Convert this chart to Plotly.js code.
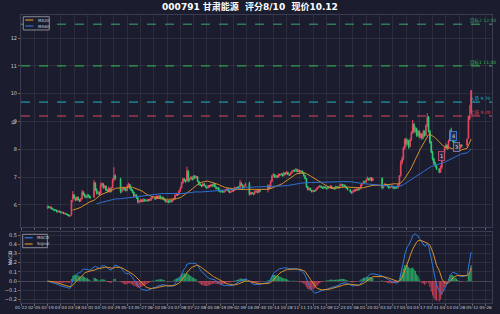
<!DOCTYPE html>
<html><head><meta charset="utf-8">
<script src="https://cdn.plot.ly/plotly-3.0.1.min.js"></script>
<style>html,body{margin:0;padding:0;background:#1b1d2e;}#chart{width:500px;height:314px;}</style>
</head><body><div id="chart"></div>
<script>
const dates = [
'2024-02-19','2024-02-20','2024-02-21','2024-02-22','2024-02-23','2024-02-26','2024-02-27','2024-02-28','2024-02-29',
'2024-03-01','2024-03-04','2024-03-05','2024-03-06','2024-03-07','2024-03-08','2024-03-11','2024-03-12','2024-03-13','2024-03-14','2024-03-15','2024-03-18','2024-03-19','2024-03-20','2024-03-21','2024-03-22','2024-03-25','2024-03-26','2024-03-27','2024-03-28','2024-03-29',
'2024-04-01','2024-04-02','2024-04-03','2024-04-08','2024-04-09','2024-04-10','2024-04-11','2024-04-12','2024-04-15','2024-04-16','2024-04-17','2024-04-18','2024-04-19','2024-04-22','2024-04-23','2024-04-24','2024-04-25','2024-04-26','2024-04-29','2024-04-30',
'2024-05-06','2024-05-07','2024-05-08','2024-05-09','2024-05-10','2024-05-13','2024-05-14','2024-05-15','2024-05-16','2024-05-17','2024-05-20','2024-05-21','2024-05-22','2024-05-23','2024-05-24','2024-05-27','2024-05-28','2024-05-29','2024-05-30','2024-05-31',
'2024-06-03','2024-06-04','2024-06-05','2024-06-06','2024-06-07','2024-06-11','2024-06-12','2024-06-13','2024-06-14','2024-06-17','2024-06-18','2024-06-19','2024-06-20','2024-06-21','2024-06-24','2024-06-25','2024-06-26','2024-06-27','2024-06-28',
'2024-07-01','2024-07-02','2024-07-03','2024-07-04','2024-07-05','2024-07-08','2024-07-09','2024-07-10','2024-07-11','2024-07-12','2024-07-15','2024-07-16','2024-07-17','2024-07-18','2024-07-19','2024-07-22','2024-07-23','2024-07-24','2024-07-25','2024-07-26','2024-07-29','2024-07-30','2024-07-31',
'2024-08-01','2024-08-02','2024-08-05','2024-08-06','2024-08-07','2024-08-08','2024-08-09','2024-08-12','2024-08-13','2024-08-14','2024-08-15','2024-08-16','2024-08-19','2024-08-20','2024-08-21','2024-08-22','2024-08-23','2024-08-26','2024-08-27','2024-08-28','2024-08-29','2024-08-30',
'2024-09-02','2024-09-03','2024-09-04','2024-09-05','2024-09-06','2024-09-09','2024-09-10','2024-09-11','2024-09-12','2024-09-13','2024-09-18','2024-09-19','2024-09-20','2024-09-23','2024-09-24','2024-09-25','2024-09-26','2024-09-27','2024-09-30',
'2024-10-08','2024-10-09','2024-10-10','2024-10-11','2024-10-14','2024-10-15','2024-10-16','2024-10-17','2024-10-18','2024-10-21','2024-10-22','2024-10-23','2024-10-24','2024-10-25','2024-10-28','2024-10-29','2024-10-30','2024-10-31',
'2024-11-01','2024-11-04','2024-11-05','2024-11-06','2024-11-07','2024-11-08','2024-11-11','2024-11-12','2024-11-13','2024-11-14','2024-11-15','2024-11-18','2024-11-19','2024-11-20','2024-11-21','2024-11-22','2024-11-25','2024-11-26','2024-11-27','2024-11-28','2024-11-29',
'2024-12-02','2024-12-03','2024-12-04','2024-12-05','2024-12-06','2024-12-09','2024-12-10','2024-12-11','2024-12-12','2024-12-13','2024-12-16','2024-12-17','2024-12-18','2024-12-19','2024-12-20','2024-12-23','2024-12-24','2024-12-25','2024-12-26','2024-12-27','2024-12-30','2024-12-31',
'2025-01-02','2025-01-03','2025-01-06','2025-01-07','2025-01-08','2025-01-09','2025-01-10','2025-01-13','2025-01-14','2025-01-15','2025-01-16','2025-01-17','2025-01-20','2025-01-21','2025-01-22','2025-01-23','2025-01-24','2025-01-27',
'2025-02-05','2025-02-06','2025-02-07','2025-02-10','2025-02-11','2025-02-12','2025-02-13','2025-02-14','2025-02-17','2025-02-18','2025-02-19','2025-02-20','2025-02-21','2025-02-24','2025-02-25','2025-02-26','2025-02-27','2025-02-28',
'2025-03-03','2025-03-04','2025-03-05','2025-03-06','2025-03-07','2025-03-10','2025-03-11','2025-03-12','2025-03-13','2025-03-14','2025-03-17','2025-03-18','2025-03-19','2025-03-20','2025-03-21','2025-03-24','2025-03-25','2025-03-26','2025-03-27','2025-03-28','2025-03-31',
'2025-04-01','2025-04-02','2025-04-03','2025-04-07','2025-04-08','2025-04-09','2025-04-10','2025-04-11','2025-04-14','2025-04-15','2025-04-16','2025-04-17','2025-04-18','2025-04-21','2025-04-22','2025-04-23','2025-04-24','2025-04-25','2025-04-28','2025-04-29','2025-04-30',
'2025-05-06','2025-05-07','2025-05-08','2025-05-09'
];
const opens = [
5.90,5.95,5.89,5.92,5.86,5.84,5.80,5.82,5.75,
5.78,5.76,5.72,5.74,5.69,5.70,5.66,5.65,5.60,5.64,6.22,6.36,6.24,6.18,6.28,6.18,6.14,6.22,6.46,6.38,6.30,
6.28,6.36,6.30,6.28,6.78,6.56,6.42,6.46,6.40,6.72,6.76,6.62,6.68,6.54,6.50,6.60,6.48,6.62,6.92,7.04,
6.94,6.48,6.56,6.62,6.56,6.52,6.68,6.74,6.60,6.54,6.46,6.32,6.36,6.26,6.10,6.14,6.18,6.12,6.20,6.15,
6.18,6.15,6.20,6.17,6.26,6.28,6.22,6.31,6.25,6.32,6.25,6.28,6.22,6.17,6.12,6.15,6.10,6.16,6.12,
6.18,6.22,6.35,6.40,6.37,6.50,6.62,6.80,6.94,6.88,6.86,7.20,6.88,6.95,7.00,6.92,7.05,6.98,7.02,6.85,6.74,6.72,6.68,
6.76,6.70,6.65,6.62,6.70,6.66,6.73,6.68,6.76,6.65,6.58,6.62,6.50,6.48,6.52,6.46,6.50,6.55,6.58,6.50,6.45,6.48,
6.55,6.52,6.62,6.58,6.65,6.62,6.78,6.72,6.62,6.68,6.78,6.38,6.45,6.42,6.40,6.48,6.50,6.45,6.52,
6.55,6.70,6.60,6.85,7.05,7.10,7.00,7.05,7.00,7.10,7.08,7.12,7.05,7.16,7.12,7.18,7.10,7.08,
7.15,7.20,7.25,7.22,7.28,7.20,7.25,7.18,7.22,7.15,7.05,6.95,6.65,6.55,6.60,6.52,6.48,6.52,6.50,6.55,6.62,
6.65,6.68,6.64,6.60,6.66,6.62,6.58,6.65,6.62,6.68,6.60,6.62,6.58,6.66,6.64,6.62,6.70,6.74,6.68,6.72,6.66,6.60,
6.56,6.48,6.45,6.50,6.55,6.52,6.58,6.55,6.60,6.72,6.78,6.85,6.82,6.90,6.96,6.90,6.98,6.88,
6.95,6.62,6.70,6.75,6.72,6.68,6.62,6.65,6.68,6.64,6.60,6.66,6.62,6.72,7.05,7.50,7.65,8.05,
8.35,8.20,8.30,8.10,8.35,8.60,8.90,8.65,8.75,8.50,8.65,8.45,8.55,8.40,8.65,8.50,8.85,9.15,8.65,8.25,7.90,
7.65,7.50,7.40,7.30,7.18,7.36,7.70,7.85,8.05,8.15,8.05,8.30,8.70,8.38,8.35,8.25,8.15,8.22,8.10,8.05,8.15,
8.15,8.40,9.10,9.30
];
const highs = [
5.98,5.97,5.95,5.93,5.89,5.85,5.85,5.83,5.80,
5.79,5.77,5.76,5.75,5.72,5.71,5.68,5.66,5.63,6.18,6.50,6.40,6.28,6.32,6.30,6.22,6.26,6.54,6.50,6.42,6.36,
6.40,6.38,6.33,6.90,6.82,6.60,6.50,6.48,6.80,6.82,6.78,6.72,6.70,6.58,6.66,6.62,6.66,6.96,7.36,7.10,
6.98,6.60,6.66,6.64,6.60,6.74,6.80,6.76,6.64,6.56,6.48,6.40,6.38,6.28,6.18,6.22,6.20,6.24,6.22,6.20,
6.20,6.22,6.22,6.28,6.32,6.30,6.34,6.33,6.36,6.34,6.30,6.30,6.24,6.19,6.18,6.17,6.19,6.18,6.20,
6.25,6.38,6.44,6.43,6.54,6.66,6.84,6.98,6.96,6.92,7.38,7.26,6.98,7.04,7.02,7.08,7.06,7.05,7.03,6.86,6.80,6.74,6.78,
6.78,6.72,6.67,6.72,6.72,6.76,6.75,6.80,6.78,6.67,6.64,6.63,6.52,6.55,6.53,6.52,6.57,6.60,6.59,6.52,6.50,6.57,
6.56,6.66,6.64,6.68,6.67,6.90,6.82,6.74,6.70,6.80,6.84,6.48,6.47,6.44,6.52,6.54,6.52,6.56,6.58,
6.75,6.72,6.88,7.08,7.14,7.12,7.08,7.07,7.14,7.12,7.15,7.13,7.20,7.18,7.22,7.19,7.12,7.18,
7.24,7.28,7.27,7.33,7.30,7.28,7.26,7.25,7.23,7.16,7.07,6.97,6.68,6.64,6.62,6.54,6.55,6.54,6.58,6.65,6.68,
6.72,6.70,6.66,6.68,6.67,6.64,6.68,6.66,6.72,6.69,6.64,6.63,6.70,6.68,6.66,6.74,6.78,6.75,6.74,6.73,6.67,6.62,
6.57,6.50,6.52,6.58,6.56,6.60,6.59,6.62,6.75,6.80,6.88,6.86,6.95,7.02,6.97,7.00,6.99,6.98,
7.00,6.72,6.78,6.76,6.73,6.69,6.68,6.70,6.69,6.65,6.68,6.67,6.76,7.08,7.60,7.75,8.10,8.40,
8.42,8.38,8.34,8.40,8.66,9.06,8.95,8.82,8.78,8.70,8.68,8.60,8.58,8.70,8.68,8.90,9.30,9.20,8.70,8.30,7.95,
7.70,7.55,7.45,7.32,7.42,7.75,7.92,8.10,8.22,8.18,8.35,8.70,8.78,8.42,8.38,8.28,8.26,8.24,8.12,8.18,8.18,
8.40,9.20,9.60,10.12
];
const lows = [
5.86,5.88,5.87,5.84,5.82,5.77,5.79,5.73,5.74,
5.73,5.70,5.70,5.67,5.66,5.64,5.62,5.59,5.57,5.62,6.10,6.20,6.14,6.16,6.15,6.10,6.12,6.20,6.34,6.26,6.24,
6.26,6.26,6.22,6.26,6.50,6.38,6.36,6.34,6.38,6.65,6.58,6.60,6.50,6.44,6.48,6.44,6.46,6.60,6.85,6.90,
6.42,6.44,6.52,6.52,6.48,6.50,6.64,6.56,6.50,6.42,6.28,6.28,6.22,6.06,6.06,6.10,6.10,6.10,6.12,6.12,
6.12,6.13,6.14,6.16,6.22,6.18,6.20,6.22,6.24,6.22,6.22,6.18,6.14,6.09,6.08,6.06,6.08,6.09,6.10,
6.16,6.20,6.32,6.33,6.36,6.48,6.60,6.76,6.84,6.80,6.84,6.82,6.84,6.90,6.88,6.90,6.94,6.95,6.82,6.70,6.68,6.64,6.66,
6.68,6.62,6.58,6.60,6.63,6.64,6.66,6.66,6.63,6.56,6.56,6.48,6.44,6.46,6.43,6.44,6.48,6.52,6.48,6.42,6.43,6.46,
6.48,6.50,6.55,6.56,6.58,6.60,6.68,6.58,6.60,6.66,6.34,6.36,6.38,6.35,6.38,6.44,6.42,6.44,6.46,
6.45,6.56,6.58,6.82,7.00,6.98,6.96,6.97,6.98,7.04,7.06,7.02,7.03,7.08,7.10,7.08,7.04,7.06,
7.12,7.18,7.18,7.20,7.17,7.18,7.15,7.16,7.12,7.02,6.92,6.62,6.52,6.53,6.50,6.45,6.46,6.47,6.48,6.54,6.60,
6.63,6.62,6.58,6.58,6.60,6.56,6.57,6.60,6.61,6.58,6.58,6.55,6.57,6.61,6.60,6.60,6.68,6.66,6.66,6.64,6.58,6.52,
6.44,6.40,6.42,6.48,6.48,6.50,6.52,6.53,6.58,6.70,6.76,6.78,6.80,6.88,6.86,6.88,6.84,6.86,
6.56,6.60,6.68,6.68,6.64,6.58,6.60,6.63,6.60,6.56,6.58,6.58,6.60,6.70,7.02,7.45,7.60,7.98,
8.10,8.15,8.02,8.06,8.30,8.55,8.58,8.60,8.45,8.46,8.40,8.40,8.34,8.38,8.45,8.48,8.80,8.60,8.20,7.86,7.60,
7.45,7.35,7.26,7.14,7.15,7.30,7.65,7.82,8.00,7.98,8.02,8.28,8.30,8.26,8.20,8.10,8.12,8.06,8.00,8.02,8.08,
8.10,8.38,9.05,9.25
];
const closes = [
5.95,5.90,5.93,5.86,5.84,5.80,5.82,5.75,5.78,
5.76,5.72,5.74,5.69,5.70,5.66,5.64,5.60,5.62,6.18,6.36,6.24,6.18,6.28,6.18,6.14,6.22,6.46,6.38,6.30,6.28,
6.36,6.30,6.26,6.80,6.56,6.42,6.46,6.38,6.72,6.76,6.62,6.68,6.54,6.50,6.60,6.48,6.62,6.90,7.06,6.96,
6.48,6.56,6.62,6.56,6.52,6.68,6.74,6.60,6.54,6.46,6.32,6.36,6.26,6.10,6.14,6.18,6.12,6.20,6.15,6.18,
6.15,6.20,6.17,6.26,6.28,6.22,6.31,6.25,6.32,6.25,6.28,6.22,6.17,6.12,6.15,6.10,6.16,6.12,6.18,
6.22,6.35,6.40,6.37,6.50,6.62,6.80,6.94,6.88,6.84,7.22,6.88,6.95,7.00,6.92,7.05,6.98,7.02,6.85,6.74,6.72,6.68,6.76,
6.70,6.65,6.62,6.70,6.66,6.73,6.68,6.76,6.65,6.58,6.62,6.50,6.48,6.52,6.46,6.50,6.55,6.58,6.50,6.45,6.48,6.55,
6.52,6.62,6.58,6.65,6.62,6.78,6.72,6.62,6.68,6.76,6.38,6.45,6.42,6.40,6.48,6.50,6.45,6.52,6.50,
6.70,6.60,6.85,7.05,7.10,7.00,7.05,7.00,7.10,7.08,7.12,7.05,7.16,7.12,7.18,7.10,7.08,7.15,
7.20,7.25,7.22,7.28,7.20,7.25,7.18,7.22,7.15,7.05,6.95,6.65,6.55,6.60,6.52,6.48,6.52,6.50,6.55,6.62,6.65,
6.68,6.64,6.60,6.66,6.62,6.58,6.65,6.62,6.68,6.60,6.62,6.58,6.66,6.64,6.62,6.70,6.74,6.68,6.72,6.66,6.60,6.56,
6.48,6.45,6.50,6.55,6.52,6.58,6.55,6.60,6.72,6.78,6.85,6.82,6.90,6.96,6.90,6.98,6.88,6.95,
6.62,6.70,6.75,6.72,6.68,6.62,6.65,6.68,6.64,6.60,6.66,6.62,6.72,7.05,7.50,7.65,8.05,8.35,
8.20,8.30,8.10,8.35,8.60,8.90,8.65,8.75,8.50,8.65,8.45,8.55,8.40,8.65,8.50,8.85,9.15,8.65,8.25,7.90,7.65,
7.50,7.40,7.30,7.18,7.36,7.70,7.85,8.05,8.15,8.05,8.30,8.65,8.38,8.35,8.25,8.15,8.22,8.10,8.05,8.15,8.12,
8.36,9.20,9.20,10.12
];

// Key price levels (value, label, colour)
const levelValues = [12.50, 11.00, 9.70, 9.20];
const levelLabels = ['目标2 12.50', '目标1 11.00', '入场 9.70', '止损 9.20'];
const levelColors = ['#3aa86b', '#2fbf4f', '#1fb5c4', '#e0455e'];

// Wave / signal markers
const markDates = ['2025-04-09', '2025-04-22', '2025-04-24'];
const markPrices = [7.75, 8.48, 8.08];
const markLabels = ['1', '4', '3'];
const markColors = ['#b04a6a', '#3d6fc9', '#7a6fb0'];

// Legend entries
const mainLegendNames = ['MA20', 'MA60'];
const macdLegendNames = ['MACD', 'Signal'];

const titleText = '000791 甘肃能源  评分8/10  现价10.12';

// ---- indicators derived from the closes ----
function movingAverage(values, windowSize, minCount) {
  return values.map(function (_, i) {
    if (i + 1 < minCount) return null;
    const start = Math.max(0, i - windowSize + 1);
    let s = 0;
    for (let k = start; k <= i; k++) s += values[k];
    return s / (i - start + 1);
  });
}
function ema(values, n) {
  const a = 2 / (n + 1);
  const out = [];
  values.forEach(function (v, i) { out.push(i === 0 ? v : a * v + (1 - a) * out[i - 1]); });
  return out;
}
const ma20 = movingAverage(closes, 20, 20);
const ma60 = movingAverage(closes, 60, 36);
const ema12 = ema(closes, 12), ema26 = ema(closes, 26);
const macd = ema12.map(function (v, i) { return v - ema26[i]; });
const signal = ema(macd, 9);
const hist = macd.map(function (v, i) { return v - signal[i]; });

const UP = '#e8475f', DOWN = '#2ecc71';
const BG = '#1b1d2e';
const GRID = 'rgba(255,255,255,0.07)';
const TXT = '#c8c8d0';
const FONT = 'DejaVu Sans, Noto Sans CJK SC, sans-serif';
const C_MA20 = '#d8902c', C_MA60 = '#2f6fd0', C_MACD = '#2f7be0', C_SIG = '#d8902c';

const traces = [
  {type: 'candlestick', x: dates, open: opens, high: highs, low: lows, close: closes,
   xaxis: 'x', yaxis: 'y', showlegend: false,
   increasing: {line: {color: UP, width: 1}, fillcolor: UP},
   decreasing: {line: {color: DOWN, width: 1}, fillcolor: DOWN}},
  {type: 'scatter', mode: 'lines', x: dates, y: ma20, name: mainLegendNames[0], xaxis: 'x', yaxis: 'y',
   line: {color: C_MA20, width: 1}, showlegend: false},
  {type: 'scatter', mode: 'lines', x: dates, y: ma60, name: mainLegendNames[1], xaxis: 'x', yaxis: 'y',
   line: {color: C_MA60, width: 1}, showlegend: false},
  {type: 'bar', x: dates, y: hist, xaxis: 'x2', yaxis: 'y2', showlegend: false,
   marker: {color: hist.map(function (v) { return v >= 0 ? 'rgba(46,204,113,0.75)' : 'rgba(232,71,95,0.75)'; }), line: {width: 0}}},
  {type: 'scatter', mode: 'lines', x: dates, y: macd, name: macdLegendNames[0], xaxis: 'x2', yaxis: 'y2',
   line: {color: C_MACD, width: 1}, showlegend: false},
  {type: 'scatter', mode: 'lines', x: dates, y: signal, name: macdLegendNames[1], xaxis: 'x2', yaxis: 'y2',
   line: {color: C_SIG, width: 1}, showlegend: false}
];

const shapes = levelValues.map(function (v, i) {
  return {type: 'line', xref: 'paper', x0: 0, x1: 1, yref: 'y', y0: v, y1: v,
          line: {color: levelColors[i], width: 1, dash: 'dash'}};
});
const annotations = levelValues.map(function (v, i) {
  return {xref: 'x', x: dates[dates.length - 1], xanchor: 'left', xshift: -3, yref: 'y', y: v, yanchor: 'bottom',
          yshift: -2, text: levelLabels[i], showarrow: false,
          font: {size: 4.5, color: levelColors[i], family: FONT}};
}).concat(markLabels.map(function (t, i) {
  return {xref: 'x', x: markDates[i], yref: 'y', y: markPrices[i], text: t, showarrow: false,
          font: {size: 5, color: '#dddddd', family: FONT}, bgcolor: 'rgba(40,44,70,0.9)',
          bordercolor: markColors[i], borderwidth: 1, borderpad: 1};
}));
// custom compact legends (paper coords)
function legendBox(x0, x1, y0, y1, rows, names, colors) {
  shapes.push({type: 'rect', xref: 'paper', yref: 'paper', x0: x0, x1: x1, y0: y0, y1: y1,
               fillcolor: BG, line: {color: '#8a8a96', width: 1}, layer: 'above'});
  rows.forEach(function (yy, i) {
    shapes.push({type: 'line', xref: 'paper', yref: 'paper', x0: x0 + 0.0042, x1: x0 + 0.0212, y0: yy, y1: yy,
                 line: {color: colors[i], width: 1.2}, layer: 'above'});
    annotations.push({xref: 'paper', yref: 'paper', x: x0 + 0.027, y: yy, xanchor: 'left', yanchor: 'middle',
                      text: names[i], showarrow: false, font: {size: 4, color: TXT, family: FONT}});
  });
}
legendBox(0.0049, 0.0601, 0.948, 0.994, [0.9826, 0.9618], mainLegendNames, [C_MA20, C_MA60]);
legendBox(0.0036, 0.056, 0.192, 0.2385, [0.2267, 0.2049], macdLegendNames, [C_MACD, C_SIG]);
// y-axis titles
annotations.push({xref: 'paper', yref: 'paper', x: -0.0265, y: 0.628, text: '价', textangle: -90,
                  showarrow: false, font: {size: 5, color: TXT, family: FONT}});
annotations.push({xref: 'paper', yref: 'paper', x: -0.034, y: 0.125, text: 'MACD', textangle: -90,
                  showarrow: false, font: {size: 5, color: TXT, family: FONT}});

const xCommon = {
  type: 'date', range: ['2024-01-22', '2025-05-30 18:00'],
  rangebreaks: [{bounds: ['sat', 'mon']}],
  tick0: '2024-01-22', dtick: 14 * 86400000, tickformat: '%m-%d', tickangle: 0,
  gridcolor: GRID, gridwidth: 1, showline: true, linecolor: '#3a3d52', mirror: true,
  ticks: 'outside', ticklen: 2, tickcolor: '#666', zeroline: false,
  tickfont: {size: 4.2, color: TXT, family: FONT}, rangeslider: {visible: false}
};

const layout = {
  width: 500, height: 314,
  paper_bgcolor: BG, plot_bgcolor: BG,
  margin: {l: 21, r: 8, t: 15, b: 11, pad: 0},
  font: {family: FONT, color: TXT, size: 5},
  title: {text: '<b>' + titleText + '</b>', x: 0.5, xref: 'container', y: 0.978, yref: 'container',
          yanchor: 'middle', font: {size: 9, color: '#ffffff', family: FONT}},
  xaxis: Object.assign({}, xCommon, {domain: [0, 1], anchor: 'y', showticklabels: false}),
  xaxis2: Object.assign({}, xCommon, {domain: [0, 1], anchor: 'y2', matches: 'x', ticklabelstandoff: -2}),
  yaxis: {domain: [0.264, 1], range: [5.21, 12.83], dtick: 1, gridcolor: GRID, zeroline: false,
          showline: true, linecolor: '#3a3d52', mirror: true, ticks: 'outside', ticklen: 2, tickcolor: '#666',
          tickfont: {size: 5, color: TXT}},
  yaxis2: {domain: [0, 0.2465], range: [-0.24, 0.536], dtick: 0.1, tickformat: '.1f', gridcolor: GRID,
           zeroline: true, zerolinecolor: 'rgba(255,255,255,0.18)', zerolinewidth: 1,
           showline: true, linecolor: '#3a3d52', mirror: true, ticks: 'outside', ticklen: 2, tickcolor: '#666',
           tickfont: {size: 5, color: TXT}},
  shapes: shapes, annotations: annotations, bargap: 0.1, showlegend: false
};

Plotly.newPlot('chart', traces, layout, {displayModeBar: false, staticPlot: true});
</script>
</body></html>
